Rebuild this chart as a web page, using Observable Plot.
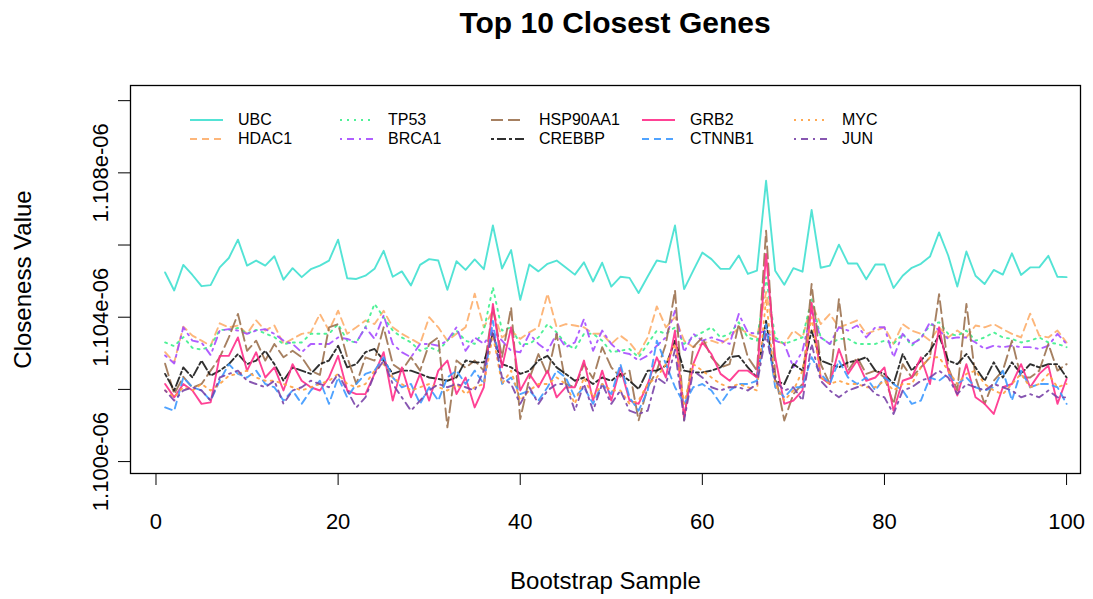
<!DOCTYPE html>
<html>
<head>
<meta charset="utf-8">
<script src="https://cdn.jsdelivr.net/npm/d3@7"></script>
<script src="https://cdn.jsdelivr.net/npm/@observablehq/plot@0.6"></script>
<style>
  html, body { margin: 0; padding: 0; background: #fff; }
  #wrap { position: relative; width: 1093px; height: 599px; font-family: "Liberation Sans", Arial, Helvetica, sans-serif; color: #000; overflow: hidden; }
  #title { height: 50px; position: relative; }
  #title span { position: absolute; left: 315px; width: 600px; top: 0; line-height: 46px; text-align: center; font-weight: bold; font-size: 30px; }
  #legend { position: absolute; left: 0; top: 0; }
  .lg-line { position: absolute; }
  .lg-text { position: absolute; font-size: 16px; line-height: 20px; white-space: nowrap; }
</style>
</head>
<body>
<div id="wrap">
  <div id="title"><span>Top 10 Closest Genes</span></div>
  <div id="chart"></div>
  <div id="legend"></div>
</div>
<script>
// Closeness values, in units of 1e-06, bootstrap samples 1..100
const UBC = [1.10524,1.10474,1.10545,1.10517,1.10486,1.10489,1.10538,1.10564,1.10615,1.10543,1.10557,1.10543,1.10569,1.10504,1.10536,1.10511,1.10533,
1.10543,1.10557,1.10615,1.10508,1.10506,1.10515,1.10534,1.10584,1.10512,1.10527,1.10488,1.10545,1.10561,1.10557,1.10476,1.10555,
1.10531,1.10560,1.10533,1.10654,1.10535,1.10586,1.10448,1.10546,1.10527,1.10548,1.10557,1.10538,1.10518,1.10552,1.10499,1.10551,1.10485,
1.10512,1.10509,1.10467,1.10513,1.10557,1.10552,1.10654,1.10478,1.10529,1.10579,1.10561,1.10534,1.10534,1.10571,1.10520,1.10529,1.10778,
1.10529,1.10490,1.10536,1.10526,1.10697,1.10537,1.10543,1.10601,1.10549,1.10549,1.10505,1.10546,1.10546,1.10481,1.10515,1.10537,
1.10548,1.10568,1.10635,1.10571,1.10485,1.10582,1.10515,1.10492,1.10531,1.10518,1.10577,1.10517,1.10538,1.10538,1.10570,1.10512,1.10511];

const HDAC1 = [1.10303,1.10275,1.10374,1.10349,1.10335,1.10321,1.10383,1.10372,1.10377,1.10354,1.10391,1.10363,1.10377,1.10326,1.10340,1.10354,1.10358,
1.10409,1.10363,1.10418,1.10354,1.10372,1.10391,1.10381,1.10418,1.10372,1.10354,1.10340,1.10326,1.10400,1.10372,1.10335,1.10354,1.10372,
1.10465,1.10372,1.10418,1.10344,1.10363,1.10340,1.10358,1.10372,1.10465,1.10372,1.10381,1.10377,1.10372,1.10354,1.10354,1.10326,
1.10349,1.10330,1.10298,1.10344,1.10430,1.10372,1.10400,1.10335,1.10317,1.10326,1.10335,1.10326,1.10344,1.10372,1.10354,1.10344,
1.10470,1.10335,1.10326,1.10363,1.10344,1.10437,1.10381,1.10409,1.10372,1.10381,1.10391,1.10354,1.10363,1.10372,1.10326,1.10381,1.10363,
1.10354,1.10335,1.10372,1.10344,1.10363,1.10344,1.10377,1.10372,1.10381,1.10367,1.10354,1.10344,1.10410,1.10349,1.10344,1.10363,1.10330];

const TP53 = [1.10330,1.10320,1.10345,1.10315,1.10310,1.10320,1.10365,1.10365,1.10370,1.10355,1.10365,1.10355,1.10345,1.10325,1.10330,1.10330,
1.10354,1.10354,1.10354,1.10381,1.10335,1.10330,1.10372,1.10437,1.10400,1.10363,1.10344,1.10330,1.10307,1.10317,1.10307,1.10335,1.10363,
1.10335,1.10326,1.10363,1.10483,1.10363,1.10372,1.10326,1.10326,1.10344,1.10381,1.10358,1.10326,1.10312,1.10354,1.10354,1.10335,1.10303,
1.10307,1.10312,1.10289,1.10326,1.10363,1.10354,1.10372,1.10326,1.10344,1.10358,1.10372,1.10344,1.10354,1.10386,1.10344,1.10335,
1.10511,1.10344,1.10326,1.10335,1.10344,1.10451,1.10344,1.10326,1.10340,1.10340,1.10326,1.10326,1.10326,1.10335,1.10326,1.10354,1.10321,
1.10344,1.10377,1.10386,1.10354,1.10349,1.10363,1.10335,1.10344,1.10358,1.10344,1.10340,1.10330,1.10335,1.10344,1.10330,1.10326,1.10317];

const BRCA1 = [1.10294,1.10272,1.10372,1.10335,1.10330,1.10295,1.10363,1.10367,1.10363,1.10354,1.10363,1.10367,1.10354,1.10335,1.10326,1.10303,1.10326,
1.10326,1.10326,1.10344,1.10340,1.10330,1.10372,1.10340,1.10405,1.10326,1.10303,1.10289,1.10326,1.10326,1.10321,1.10335,1.10372,1.10307,
1.10344,1.10326,1.10363,1.10335,1.10307,1.10303,1.10354,1.10326,1.10307,1.10354,1.10317,1.10330,1.10395,1.10307,1.10363,1.10326,
1.10303,1.10298,1.10280,1.10294,1.10321,1.10344,1.10418,1.10303,1.10354,1.10335,1.10344,1.10335,1.10326,1.10409,1.10358,1.10354,
1.10363,1.10335,1.10326,1.10261,1.10307,1.10418,1.10344,1.10326,1.10372,1.10363,1.10377,1.10344,1.10372,1.10372,1.10289,1.10354,1.10326,
1.10340,1.10386,1.10363,1.10340,1.10344,1.10344,1.10330,1.10312,1.10321,1.10317,1.10321,1.10317,1.10317,1.10312,1.10321,1.10354,1.10326];

const HSP90AA1 = [1.10271,1.10187,1.10235,1.10205,1.10215,1.10252,1.10289,1.10344,1.10409,1.10307,1.10335,1.10280,1.10326,1.10289,1.10307,1.10289,1.10252,
1.10240,1.10372,1.10381,1.10289,1.10215,1.10289,1.10280,1.10372,1.10270,1.10252,1.10289,1.10252,1.10326,1.10344,1.10095,1.10280,1.10260,
1.10280,1.10252,1.10427,1.10289,1.10427,1.10118,1.10230,1.10298,1.10240,1.10354,1.10215,1.10206,1.10270,1.10230,1.10317,1.10261,
1.10235,1.10252,1.10114,1.10206,1.10252,1.10326,1.10474,1.10114,1.10317,1.10344,1.10289,1.10261,1.10270,1.10381,1.10289,1.10252,
1.10640,1.10243,1.10114,1.10187,1.10215,1.10492,1.10270,1.10215,1.10450,1.10252,1.10289,1.10243,1.10252,1.10233,1.10160,1.10270,1.10233,
1.10261,1.10289,1.10464,1.10261,1.10197,1.10437,1.10233,1.10160,1.10224,1.10252,1.10335,1.10233,1.10233,1.10252,1.10326,1.10252,1.10270];

const CREBBP = [1.10243,1.10197,1.10261,1.10233,1.10280,1.10238,1.10252,1.10270,1.10298,1.10270,1.10280,1.10307,1.10270,1.10224,1.10261,1.10252,1.10243,
1.10270,1.10280,1.10321,1.10261,1.10270,1.10303,1.10312,1.10280,1.10243,1.10252,1.10252,1.10243,1.10233,1.10229,1.10224,1.10233,
1.10280,1.10275,1.10275,1.10354,1.10270,1.10261,1.10243,1.10252,1.10280,1.10293,1.10261,1.10243,1.10224,1.10233,1.10215,1.10233,1.10224,
1.10243,1.10224,1.10201,1.10252,1.10252,1.10266,1.10335,1.10252,1.10247,1.10247,1.10252,1.10261,1.10289,1.10293,1.10261,1.10233,
1.10390,1.10224,1.10215,1.10270,1.10252,1.10363,1.10280,1.10270,1.10261,1.10275,1.10280,1.10289,1.10252,1.10243,1.10215,1.10298,1.10252,
1.10280,1.10307,1.10349,1.10280,1.10270,1.10298,1.10261,1.10224,1.10275,1.10233,1.10275,1.10243,1.10270,1.10261,1.10270,1.10270,1.10233];

const GRB2 = [1.10215,1.10178,1.10215,1.10197,1.10160,1.10164,1.10293,1.10293,1.10344,1.10252,1.10303,1.10233,1.10261,1.10197,1.10270,1.10224,1.10206,
1.10197,1.10233,1.10293,1.10197,1.10187,1.10187,1.10243,1.10303,1.10169,1.10261,1.10178,1.10243,1.10169,1.10252,1.10280,1.10187,1.10233,
1.10150,1.10206,1.10437,1.10261,1.10372,1.10197,1.10243,1.10206,1.10252,1.10178,1.10206,1.10206,1.10280,1.10169,1.10252,1.10169,
1.10261,1.10169,1.10160,1.10215,1.10289,1.10233,1.10363,1.10123,1.10270,1.10330,1.10298,1.10243,1.10224,1.10252,1.10252,1.10233,
1.10575,1.10289,1.10160,1.10169,1.10197,1.10440,1.10233,1.10215,1.10312,1.10243,1.10280,1.10224,1.10233,1.10261,1.10141,1.10224,1.10233,
1.10289,1.10215,1.10372,1.10252,1.10183,1.10270,1.10178,1.10160,1.10132,1.10206,1.10215,1.10270,1.10206,1.10243,1.10266,1.10160,1.10229];

const CTNNB1 = [1.10150,1.10141,1.10233,1.10206,1.10197,1.10169,1.10224,1.10270,1.10243,1.10233,1.10252,1.10215,1.10206,1.10169,1.10197,1.10160,1.10197,
1.10224,1.10160,1.10233,1.10178,1.10215,1.10243,1.10252,1.10289,1.10233,1.10206,1.10215,1.10160,1.10206,1.10169,1.10233,1.10252,1.10215,
1.10252,1.10215,1.10390,1.10215,1.10233,1.10187,1.10197,1.10169,1.10206,1.10252,1.10233,1.10178,1.10206,1.10160,1.10215,1.10187,
1.10270,1.10178,1.10141,1.10197,1.10335,1.10270,1.10206,1.10160,1.10206,1.10215,1.10197,1.10160,1.10197,1.10215,1.10215,1.10224,
1.10380,1.10206,1.10178,1.10206,1.10206,1.10289,1.10243,1.10215,1.10280,1.10233,1.10215,1.10233,1.10197,1.10233,1.10215,1.10197,1.10160,
1.10169,1.10233,1.10224,1.10243,1.10215,1.10233,1.10206,1.10197,1.10206,1.10252,1.10169,1.10252,1.10206,1.10215,1.10215,1.10206,1.10160];

const MYC = [1.10197,1.10178,1.10206,1.10197,1.10215,1.10197,1.10215,1.10238,1.10243,1.10252,1.10233,1.10224,1.10224,1.10215,1.10206,1.10197,1.10206,
1.10215,1.10224,1.10243,1.10215,1.10206,1.10215,1.10252,1.10270,1.10233,1.10215,1.10197,1.10206,1.10215,1.10206,1.10197,1.10215,1.10187,
1.10206,1.10215,1.10350,1.10215,1.10252,1.10169,1.10197,1.10215,1.10215,1.10233,1.10215,1.10160,1.10233,1.10178,1.10215,1.10197,
1.10197,1.10160,1.10169,1.10215,1.10233,1.10270,1.10326,1.10160,1.10270,1.10252,1.10233,1.10215,1.10206,1.10215,1.10206,1.10197,
1.10450,1.10215,1.10169,1.10197,1.10252,1.10400,1.10233,1.10215,1.10224,1.10215,1.10215,1.10206,1.10206,1.10224,1.10197,1.10215,1.10215,
1.10261,1.10289,1.10289,1.10252,1.10215,1.10243,1.10252,1.10215,1.10197,1.10187,1.10215,1.10243,1.10206,1.10215,1.10243,1.10206,1.10215];

const JUN = [1.10197,1.10169,1.10197,1.10206,1.10197,1.10169,1.10233,1.10243,1.10252,1.10224,1.10215,1.10206,1.10224,1.10160,1.10197,1.10206,1.10224,
1.10215,1.10206,1.10243,1.10197,1.10150,1.10178,1.10243,1.10280,1.10215,1.10178,1.10141,1.10169,1.10197,1.10215,1.10206,1.10215,1.10206,
1.10197,1.10252,1.10360,1.10233,1.10215,1.10160,1.10206,1.10160,1.10197,1.10215,1.10215,1.10141,1.10215,1.10141,1.10215,1.10160,
1.10197,1.10141,1.10132,1.10141,1.10233,1.10215,1.10310,1.10114,1.10252,1.10233,1.10206,1.10197,1.10206,1.10206,1.10197,1.10215,
1.10354,1.10224,1.10197,1.10206,1.10169,1.10326,1.10224,1.10197,1.10178,1.10197,1.10206,1.10215,1.10187,1.10178,1.10132,1.10197,1.10206,
1.10224,1.10233,1.10252,1.10233,1.10187,1.10215,1.10206,1.10197,1.10215,1.10206,1.10197,1.10178,1.10187,1.10178,1.10197,1.10178,1.10178];

const genes = ["UBC","HDAC1","TP53","BRCA1","HSP90AA1","CREBBP","GRB2","CTNNB1","MYC","JUN"];
const seriesValues = [UBC, HDAC1, TP53, BRCA1, HSP90AA1, CREBBP, GRB2, CTNNB1, MYC, JUN];
const xTicks = [0, 20, 40, 60, 80, 100];
const yTicks = [1.100, 1.102, 1.104, 1.106, 1.108, 1.110];
const yTickLabels = [1.100, 1.104, 1.108];

const colors = ["#40E0D0","#FDAE6B","#3CF08C","#A64DFF","#9C7250","#1a1a1a","#FF2D8A","#3D99FF","#FFA040","#7A44A8"];
const dashes = ["none","7,5","2,5","2,5,7,5","12,5","3,3,9,3","none","7,5","2,5","2,5,7,5"];

const rows = genes.flatMap((g, k) => seriesValues[k].map((v, i) => ({gene: g, sample: i + 1, value: v})));

const chart = Plot.plot({
  width: 1093,
  height: 549,
  marginLeft: 130,
  marginRight: 13,
  marginTop: 35,
  marginBottom: 126,
  style: {fontFamily: '"Liberation Sans", Arial, Helvetica, sans-serif', color: "#000", background: "#fff"},
  x: {domain: [-2.8, 101.53]},
  y: {domain: [1.09967, 1.11042]},
  marks: [
    ...genes.map((g, k) => Plot.line(rows.filter(r => r.gene === g), {
      x: "sample", y: "value", stroke: colors[k], strokeWidth: 1.9,
      strokeDasharray: dashes[k], strokeOpacity: 0.9, curve: "linear"
    })),
    Plot.frame({stroke: "#000", strokeWidth: 1.3}),
    Plot.axisX({ticks: xTicks, tickSize: 12, tickPadding: 28, fontSize: 22, label: null, tickFormat: d => String(d), stroke: "#000"}),
    Plot.axisY({ticks: yTicks, tickSize: 12, tickFormat: () => "", label: null, stroke: "#000"}),
    Plot.text(yTickLabels, {y: d => d, text: d => d.toFixed(3) + "e-06", frameAnchor: "left", textAnchor: "middle", dx: -30, rotate: -90, fontSize: 22, fill: "#000"}),
    Plot.text(["Bootstrap Sample"], {text: d => d, frameAnchor: "bottom", dy: 115, fontSize: 24, fill: "#000"}),
    Plot.text(["Closeness Value"], {text: d => d, frameAnchor: "left", textAnchor: "middle", dx: -107, rotate: -90, fontSize: 24, fill: "#000"})
  ]
});
document.getElementById("chart").appendChild(chart);

// Legend (inside plot area, 5 columns x 2 rows, no box)
const legendColX = [190, 340, 491, 642, 794];
const legendRowY = [120, 139];
const legend = document.getElementById("legend");
genes.forEach((g, k) => {
  const col = Math.floor(k / 2), row = k % 2;
  const x0 = legendColX[col], y0 = legendRowY[row];
  const svgNS = "http://www.w3.org/2000/svg";
  const s = document.createElementNS(svgNS, "svg");
  s.setAttribute("width", 34); s.setAttribute("height", 10);
  s.setAttribute("class", "lg-line");
  s.style.left = x0 + "px"; s.style.top = (y0 - 5) + "px";
  const ln = document.createElementNS(svgNS, "line");
  ln.setAttribute("x1", 0); ln.setAttribute("x2", 33); ln.setAttribute("y1", 5); ln.setAttribute("y2", 5);
  ln.setAttribute("stroke", colors[k]); ln.setAttribute("stroke-width", 1.9);
  ln.setAttribute("stroke-opacity", 0.9);
  if (dashes[k] !== "none") ln.setAttribute("stroke-dasharray", dashes[k]);
  s.appendChild(ln);
  legend.appendChild(s);
  const t = document.createElement("div");
  t.className = "lg-text";
  t.textContent = g;
  t.style.left = (x0 + 48) + "px"; t.style.top = (y0 - 10) + "px";
  legend.appendChild(t);
});
</script>
</body>
</html>
